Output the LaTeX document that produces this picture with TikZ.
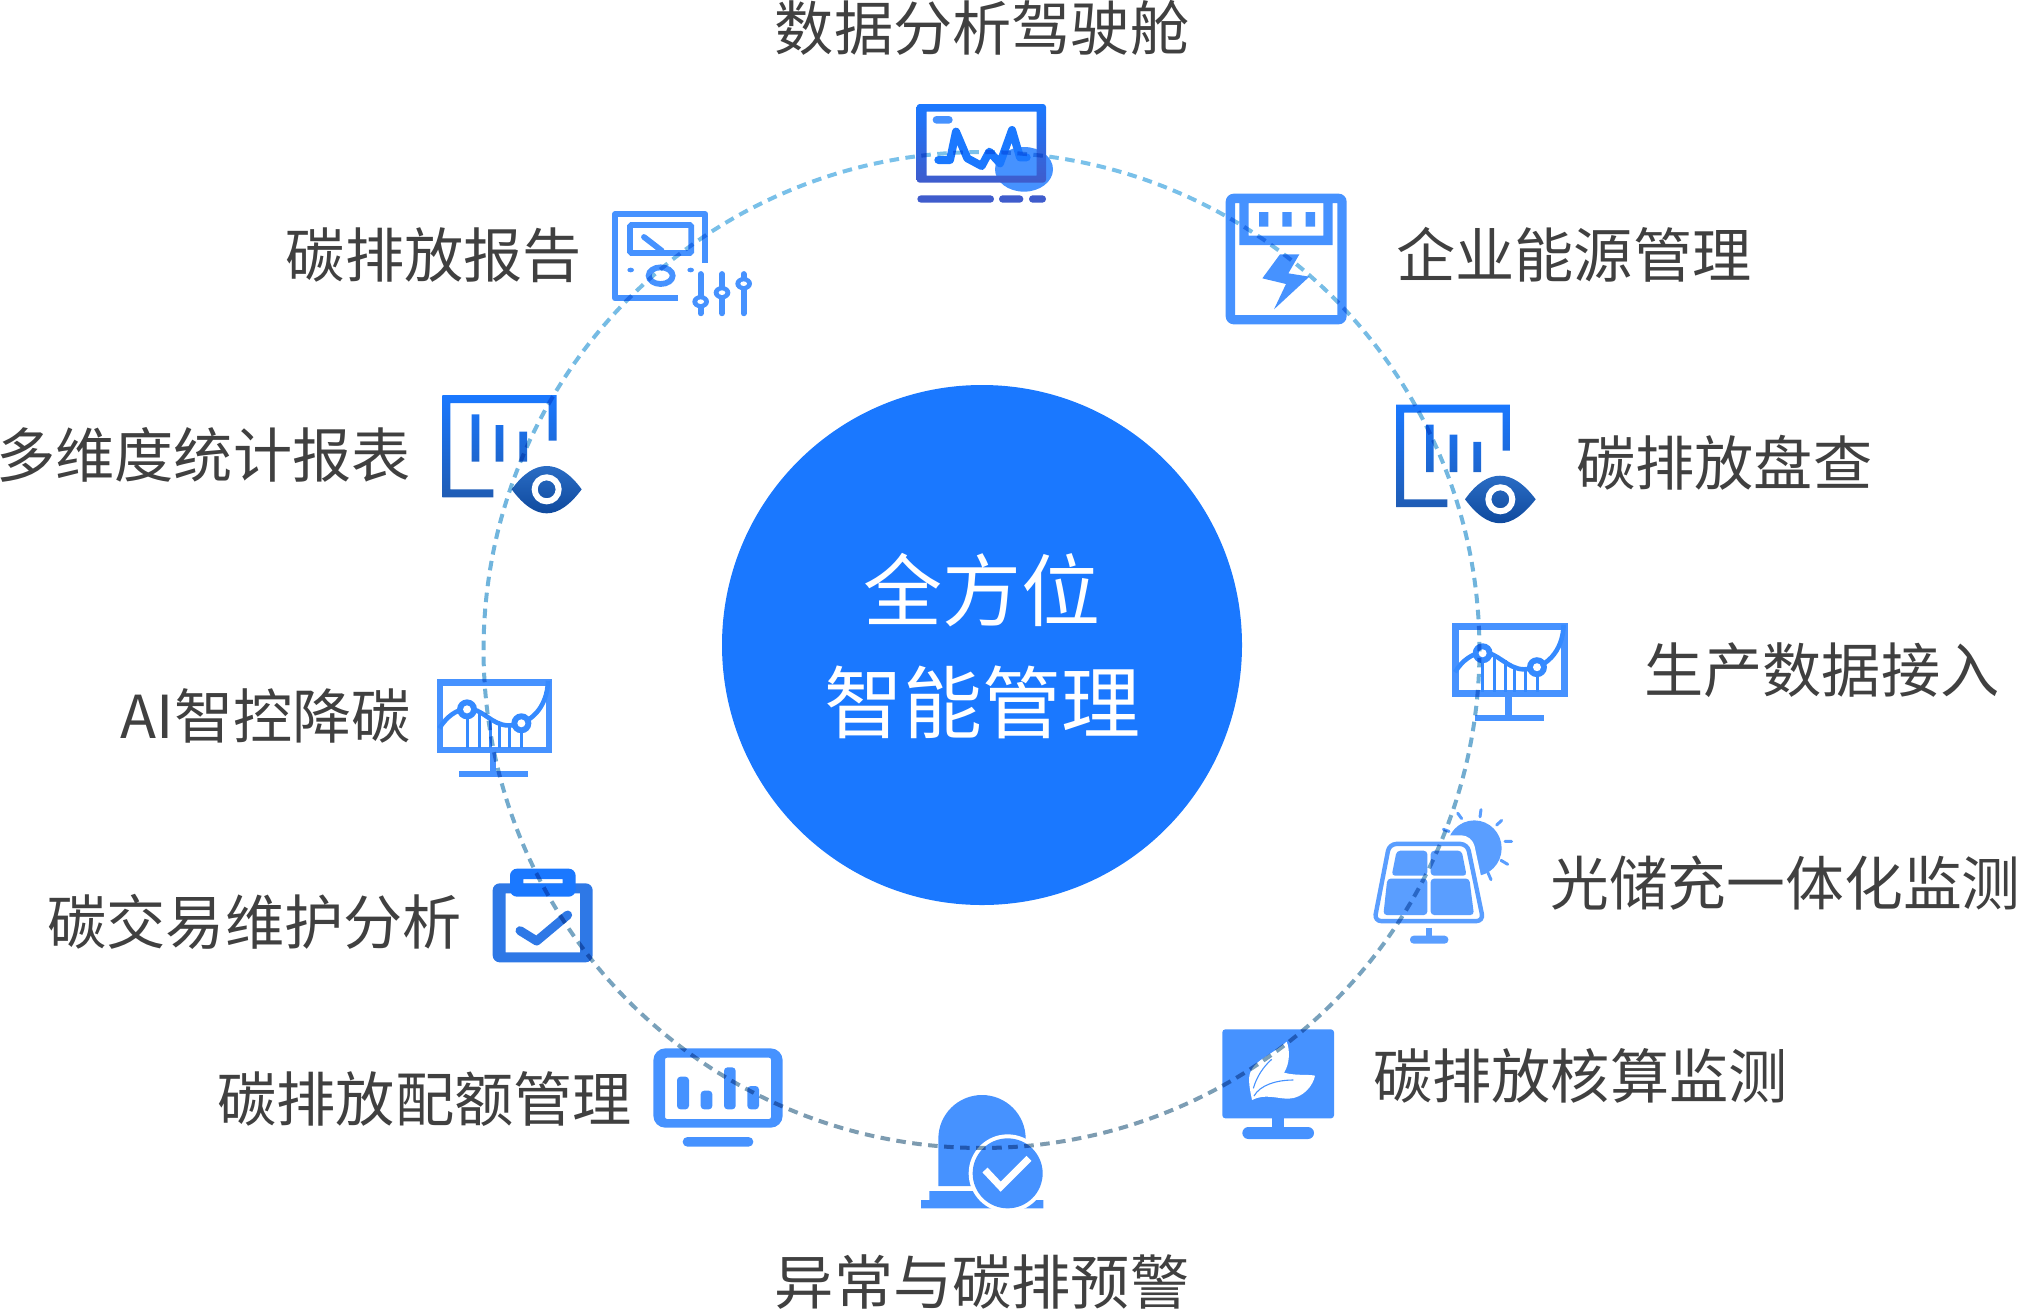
\documentclass[tikz,border=0pt]{standalone}
\usepackage{fontspec}
\setmainfont{Noto Sans CJK SC}
\usetikzlibrary{calc}
\definecolor{ic}{HTML}{4692FF}
\definecolor{icd}{HTML}{358AFF}
\definecolor{icl}{HTML}{5A9EFF}
\definecolor{core}{HTML}{1A78FF}
\definecolor{txt}{HTML}{404040}
\definecolor{ringA}{HTML}{7AC1EA}
\definecolor{ringB}{HTML}{6FB2DA}
\definecolor{ringC}{HTML}{7D9BB0}
\definecolor{navy}{HTML}{3F5CCC}
\definecolor{board}{HTML}{2E78E6}
\definecolor{fmid}{HTML}{4A80D0}
\definecolor{fbot}{HTML}{1F5CB4}
\definecolor{eyet}{HTML}{2A6CC4}
\definecolor{eyeb}{HTML}{0F4A9E}
\tikzset{
  zm/.style 2 args={shift={(#1,#2)},x=0.33333pt,y=-0.33333pt},
  zt/.style 2 args={shift={(#1,#2)},x=0.33333pt,y=-0.35714pt},
  lab/.style={inner sep=0pt,text=txt,font=\fontsize{59.2pt}{60pt}\selectfont},
  labs/.style={inner sep=0pt,text=txt,font=\fontsize{58.8pt}{60pt}\selectfont},
  centre/.style={inner sep=0pt,text=white,font=\fontsize{79pt}{80pt}\selectfont},
}
% drawn in the taller units of zt
\newcommand{\chartmon}{%
  \draw[ic,line width=6.4pt] (10,10) rectangle (336,198);
  \draw[ic,line width=6.3pt] (168.5,198) -- (168.5,263);
  \draw[ic,line width=6.3pt] (68,266.5) -- (275,266.5);
  \foreach \xa/\ya in {91/85,127/88,161/105,187/122,219/128,255/124}
    \draw[icd,line width=3pt] (\xa,\ya) -- (\xa,193);
  \draw[icd,line width=4.6pt] (8,138) .. controls (30,105) and (60,85) .. (91,83)
     .. controls (135,80) and (165,130) .. (215,130)
     .. controls (280,130) and (332,80) .. (334,5);
  \foreach \xa/\ya in {91/85,254/124}{
    \fill[icd] (\xa,\ya) ellipse [x radius=30,y radius=28];
    \fill[white] (\xa,\ya) ellipse [x radius=12,y radius=11.2];
  }
}
\begin{document}
\begin{tikzpicture}[x=1pt,y=-1pt]
\useasboundingbox (0,0) rectangle (2018,1310);
\coordinate (ringc) at (981.5,650);

% centre disc
\node[circle,fill=core,minimum size=520pt,inner sep=0pt] (disc) at (982,645) {};
\node[centre] (c1) at (982,590) {全方位};
\node[centre] (c2) at (982,702) {智能管理};

% labels
\node[lab] (l1) at (982,28) {数据分析驾驶舱};
\node[lab,anchor=west] (l2) at (1396,255) {企业能源管理};
\node[lab,anchor=west] (l3) at (1576,463) {碳排放盘查};
\node[lab,anchor=west] (l4) at (1644,670) {生产数据接入};
\node[labs,anchor=west] (l5) at (1550,883) {光储充一体化监测};
\node[lab,anchor=west] (l6) at (1373,1076) {碳排放核算监测};
\node[lab] (l7) at (982,1282) {异常与碳排预警};
\node[lab,anchor=east] (l8) at (632,1099) {碳排放配额管理};
\node[lab,anchor=east] (l9) at (462,922) {碳交易维护分析};
\node[lab,anchor=east] (l10) at (411,716) {AI智控降碳};
\node[lab,anchor=east] (l11) at (411,455) {多维度统计报表};
\node[lab,anchor=east] (l12) at (582,255) {碳排放报告};

% dashboard icon
\begin{scope}[zm={880}{80}]
  \fill[ic] (432,268) ellipse [x radius=87,y radius=67];
  \shade[even odd rule,top color=core,bottom color=navy]
    [rounded corners=3pt] (110,72) rectangle (498,308)
    [sharp corners] (140,95) rectangle (470,287);
  \fill[ic,rounded corners=3.8pt] (158,108) rectangle (218,131);
  \draw[color=core,line width=8pt,line cap=round,line join=round]
    (175,240) -- (210,240) -- (228,155) -- (262,235) -- (305,258) -- (328,215) -- (360,250) -- (396,150) -- (420,232) -- (440,232);
  \fill[navy,rounded corners=3.6pt] (112,346) rectangle (342,368);
  \fill[navy,rounded corners=3.6pt] (357,346) rectangle (430,368);
  \fill[navy,rounded corners=3.6pt] (447,346) rectangle (498,368);
\end{scope}

% energy meter icon
\begin{scope}[zm={880}{80}]
  \fill[ic,even odd rule,rounded corners=8pt] (1037,341) rectangle (1400,733)
    [sharp corners] (1065,369) -- (1078,369) -- (1078,495) -- (1358,495) -- (1358,369) -- (1372,369) -- (1372,705) -- (1065,705) -- cycle
    (1106,369) rectangle (1330,467);
  \fill[ic] (1137,396) rectangle (1165,440) (1207,396) rectangle (1235,440) (1277,396) rectangle (1305,440);
  \fill[ic] (1200,523) -- (1258,523) -- (1225,580) -- (1288,590) -- (1182,688) -- (1218,612) -- (1147,595) -- cycle;
\end{scope}

% report meter icon
\begin{scope}[zm={420}{190}]
  \draw[ic,line width=5.8pt,line join=round] (856,218) -- (856,72) -- (585,72) -- (585,325) -- (775,325);
  \draw[ic,line width=5.8pt,rounded corners=1.5pt] (630,105) rectangle (814,189);
  \draw[ic,line width=5.8pt,line cap=round] (672,141) -- (725,182);
  \fill[ic] (632,240) ellipse [x radius=10,y radius=7];
  \fill[ic] (812,240) ellipse [x radius=10,y radius=7];
  \draw[ic,line width=5.8pt] (722,257) ellipse [x radius=36,y radius=25];
  \foreach \xa/\ya in {842/335,906/308,971/281}{
    \draw[ic,line width=5.8pt,line cap=round] (\xa,252) -- (\xa,370);
    \fill[ic] (\xa,\ya) ellipse [x radius=25,y radius=20];
    \fill[white] (\xa,\ya) ellipse [x radius=10,y radius=7];
  }
\end{scope}

% left eye-chart icon
\begin{scope}[zm={420}{190}]
  \shade[top color=core,middle color=fmid,bottom color=fbot]
    (410,752) -- (410,615) -- (67,615) -- (67,922) -- (220,922) -- (220,898) -- (91,898) -- (91,639) -- (386,639) -- (386,752) -- cycle
    (155,673) rectangle (178,815) (227,705) rectangle (250,815) (298,725) rectangle (321,815);
  \shade[top color=eyet,bottom color=eyeb] (275,898) .. controls (310,850) and (345,828) .. (380,828) .. controls (415,828) and (450,850) .. (485,898) .. controls (450,945) and (415,970) .. (380,970) .. controls (345,970) and (310,945) .. (275,898) -- cycle;
  \draw[white,line width=6pt] (380,898) circle (36);
\end{scope}

% right eye-chart icon
\begin{scope}[zt={1350}{390}]
  \shade[top color=core,middle color=fmid,bottom color=fbot]
    (482,170) -- (482,41) -- (138,41) -- (138,328) -- (292,328) -- (292,306) -- (162,306) -- (162,63) -- (458,63) -- (458,170) -- cycle
    (228,97) rectangle (251,230) (299,125) rectangle (322,230) (370,145) rectangle (393,230);
  \shade[top color=eyet,bottom color=eyeb] (345,306) .. controls (380,260) and (415,240) .. (450,240) .. controls (485,240) and (520,260) .. (557,306) .. controls (520,350) and (485,373) .. (450,373) .. controls (415,373) and (380,350) .. (345,306) -- cycle;
  \draw[white,line width=6pt] (451,306) ellipse [x radius=36,y radius=33.6];
\end{scope}

% chart monitors
\begin{scope}[zt={1452.3}{622.9}]
  \chartmon
\end{scope}
\begin{scope}[zt={436.7}{679}]
  \chartmon
\end{scope}

% solar panel icon
\begin{scope}[zt={1350}{390}]
  \fill[icl] (373,1283) ellipse [x radius=82,y radius=78];
  \draw[icl,line width=3pt,line cap=round] (323,1185) -- (335,1200) (393,1175) -- (390,1195) (440,1218) -- (455,1205) (465,1264) -- (485,1264) (453,1317) -- (473,1328) (414,1352) -- (423,1371) (280,1230) -- (297,1236);
  \draw[white,fill=white,line width=8pt,rounded corners=8pt] (118,1258) -- (357,1258) -- (412,1497) -- (60,1497) -- cycle;
  \draw[icl,line width=4.4pt,rounded corners=7pt] (118,1271) -- (352,1271) -- (400,1487) -- (73,1487) -- cycle;
  \begin{scope}[rounded corners=3.5pt]
    \fill[icl] (140,1290) -- (232,1290) -- (232,1360) -- (125,1360) -- cycle;
    \fill[icl] (242,1290) -- (335,1290) -- (350,1360) -- (242,1360) -- cycle;
    \fill[icl] (112,1368) -- (232,1368) -- (232,1470) -- (100,1470) -- cycle;
    \fill[icl] (242,1368) -- (358,1368) -- (372,1470) -- (242,1470) -- cycle;
  \end{scope}
  \draw[icl,line width=6pt] (237,1505) -- (237,1535);
  \fill[icl,rounded corners=3.6pt] (180,1528) rectangle (295,1550);
\end{scope}

% leaf monitor icon
\begin{scope}[zm={1190}{1000}]
  \fill[ic,rounded corners=3pt] (97,88) rectangle (432,355);
  \fill[ic] (245,350) rectangle (283,385);
  \fill[ic,rounded corners=6pt] (157,381) rectangle (372,417);
  \fill[white] (186,300) .. controls (180,270) and (172,235) .. (182,215) .. controls (195,180) and (245,165) .. (290,125) .. controls (300,150) and (300,190) .. (282,218) .. controls (320,228) and (350,222) .. (375,227) .. controls (370,255) and (340,295) .. (295,296) .. controls (260,296) and (225,280) .. (186,300) -- cycle;
  \draw[ic,line width=1.1pt] (190,265) .. controls (200,230) and (220,200) .. (245,178);
  \draw[ic,line width=1.1pt] (192,288) .. controls (210,255) and (260,240) .. (310,240);
\end{scope}

% alarm icon
\begin{scope}[zm={630}{1030}]
  \fill[ic] (925,468) -- (925,326) arc [start angle=180,end angle=360,radius=131] -- (1187,468) -- cycle;
  \fill[ic] (873,535) -- (873,510) -- (898,510) -- (898,483) -- (1190,483) -- (1215,510) -- (1240,510) -- (1240,535) -- cycle;
  \fill[white] (1133,430) circle (117);
  \fill[ic] (1133,430) circle (105);
  \draw[white,line width=7pt] (1065,420) -- (1112,470) -- (1197,385);
\end{scope}

% quota monitor icon
\begin{scope}[zm={630}{1030}]
  \fill[ic,even odd rule] [rounded corners=12pt] (70,55) rectangle (458,293)
    [rounded corners=2pt] (105,83) rectangle (423,267);
  \begin{scope}[rounded corners=3.5pt]
    \fill[ic] (141,140) rectangle (177,238);
    \fill[ic] (212,182) rectangle (247,238);
    \fill[ic] (282,112) rectangle (317,238);
    \fill[ic] (352,168) rectangle (387,238);
  \end{scope}
  \fill[ic,rounded corners=4.8pt] (158,321) rectangle (370,350);
\end{scope}

% clipboard icon
\begin{scope}[zm={420}{660}]
  \fill[board,even odd rule] [rounded corners=7pt] (218,670) rectangle (518,907)
    [sharp corners] (257,700) rectangle (480,877);
  \fill[core,even odd rule] [rounded corners=7pt] (270,626) rectangle (467,710)
    [sharp corners] (310,657) rectangle (428,671);
  \draw[board,line width=9pt,line cap=round,line join=round] (300,812) -- (350,843) -- (443,765);
\end{scope}

% dashed ring, multiplied over everything it crosses
\begin{scope}[blend mode=multiply,shift={(ringc)}]
  \foreach \i in {0,...,194}{
    \pgfmathsetmacro{\angA}{\i*1.846154+0.9}
    \pgfmathsetmacro{\angB}{\angA+1.1}
    \pgfmathsetmacro{\tv}{50+50*sin(\angA+0.5)}
    \pgfmathsetmacro{\tc}{\tv<50?2*\tv:2*(\tv-50)}
    \ifdim\tv pt<50pt
      \draw[ringB!\tc!ringA,line width=4pt] (\angA:498) -- (\angB:498);
    \else
      \draw[ringC!\tc!ringB,line width=4pt] (\angA:498) -- (\angB:498);
    \fi
  }
\end{scope}
\end{tikzpicture}
\end{document}
